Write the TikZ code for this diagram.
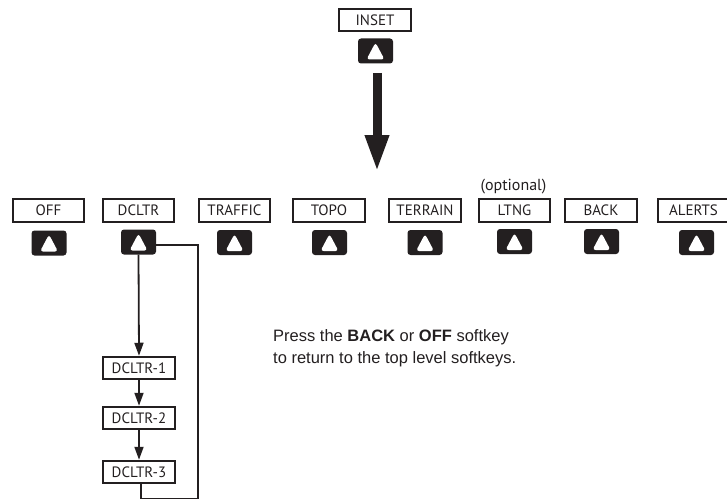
\documentclass[tikz,border=0pt]{standalone}
\usepackage{fontspec}
\setmainfont{Liberation Sans}
\newfontfamily\labelfont{PT Sans}
\usetikzlibrary{arrows.meta}
\definecolor{dk}{HTML}{231F20}
\tikzset{
  lbl/.style={draw=dk, line width=2pt, minimum width=71.5pt, minimum height=22.5pt, inner sep=0pt,
    font=\labelfont\fontsize{15}{15}\selectfont, text=dk},
  btn/.style={fill=dk, rounded corners=3pt, minimum width=35pt, minimum height=25pt, inner sep=0pt,
    path picture={\fill[white] ([xshift=-9pt,yshift=-8.5pt]path picture bounding box.center) --
      ([xshift=9pt,yshift=-8.5pt]path picture bounding box.center) --
      ([yshift=8.5pt]path picture bounding box.center) -- cycle;}},
  conn/.style={draw=dk, line width=1.8pt},
  arr/.style={conn, -{Triangle[width=9pt,length=13pt]}},
}
\begin{document}
\begin{tikzpicture}[x=1pt,y=-1pt]
\useasboundingbox (0,0) rectangle (727,500);
% INSET
\node[lbl] (inset) at (375,20) {INSET};
\node[btn] (ibtn) at (375.5,51) {};
\coordinate (bigS) at (377,73);
\coordinate (bigE) at (377,172);
\draw[dk, line width=9pt, -{Triangle[width=22pt,length=37pt]}] (bigS) -- (bigE);
% top-level softkeys
\node[lbl] (off) at (48.5,210.5) {OFF};
\node[lbl] (dcltr) at (138.5,210.5) {DCLTR};
\node[lbl] (traffic) at (234.5,210.5) {TRAFFIC};
\node[lbl] (topo) at (329,210.5) {TOPO};
\node[lbl] (terrain) at (425,210.5) {TERRAIN};
\node[lbl] (ltng) at (514.5,210.5) {LTNG};
\node[lbl] (back) at (601,210.5) {BACK};
\node[lbl] (alerts) at (693.5,210.5) {ALERTS};
\node[font=\labelfont\fontsize{16}{16}\selectfont, text=dk] (opt) at (513.5,187) {(optional)};
\node[btn] (offb) at (49,243) {};
\node[btn] (dbtn) at (138.5,242) {};
\node[btn] (trafb) at (234.5,242.5) {};
\node[btn] (topob) at (329.5,242.5) {};
\node[btn] (terrb) at (425,242.5) {};
\node[btn] (ltngb) at (514.5,241.5) {};
\node[btn] (backb) at (601.5,241.5) {};
\node[btn] (alertb) at (696.5,242.5) {};
% DCLTR submenu
\node[lbl] (d1) at (139,368) {DCLTR-1};
\node[lbl] (d2) at (139,418) {DCLTR-2};
\node[lbl] (d3) at (139,472) {DCLTR-3};
\draw[arr] (dbtn.south) -- (d1.north);
\draw[arr] (d1.south) -- (d2.north);
\draw[arr] (d2.south) -- (d3.north);
\coordinate (loopB) at (198,498.5);
\draw[conn] ([xshift=2pt]d3.south) |- (loopB) |- ([yshift=-3pt]dbtn.east);
% note
\node[anchor=north west, align=left, inner sep=0pt, font=\fontsize{16.5}{22}\selectfont, text=dk] (note) at (273,329)
  {Press the \textbf{BACK} or \textbf{OFF} softkey\\to return to the top level softkeys.};
\end{tikzpicture}
\end{document}
